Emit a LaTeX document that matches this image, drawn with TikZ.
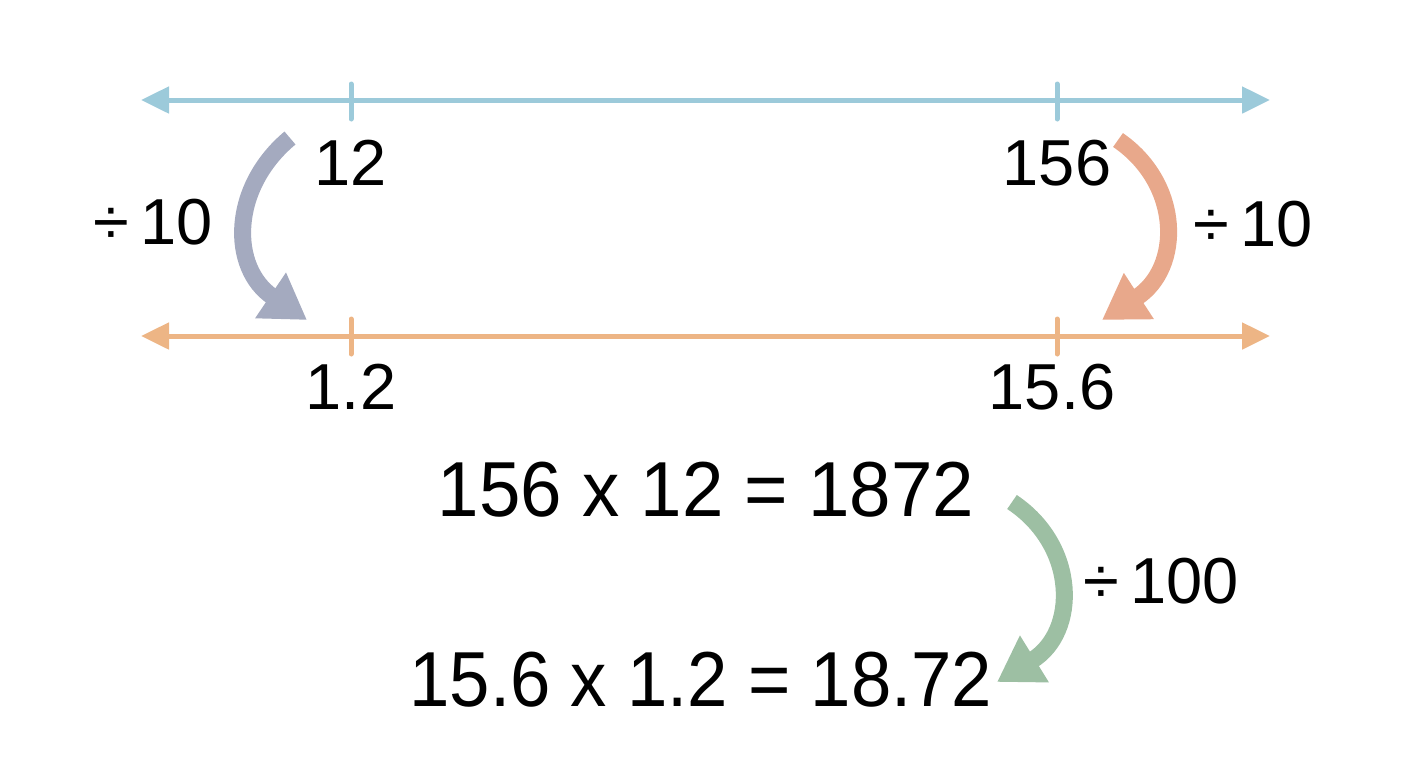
\documentclass[tikz,border=0pt]{standalone}
\usepackage{fontspec}
\setmainfont{Liberation Sans}
\usetikzlibrary{arrows.meta}
\definecolor{lblue}{HTML}{9CCADA}
\definecolor{lorange}{HTML}{EDB585}
\definecolor{cgray}{HTML}{A4AABF}
\definecolor{csalmon}{HTML}{E8A88B}
\definecolor{cgreen}{HTML}{9DBFA3}
\tikzset{
  numline/.style={line width=2.5pt, {Triangle[length=14pt,width=13pt]}-{Triangle[length=14pt,width=13pt]}},
  tickmark/.style={line width=2.5pt, line cap=round},
  bigarrow/.style={line width=8.5pt, -{Triangle[length=22pt,width=26pt]}},
  lbl/.style={font=\fontsize{32.5}{38}\selectfont, inner sep=0pt},
  eqn/.style={font=\fontsize{39}{46}\selectfont, inner sep=0pt},
}
\begin{document}
\begin{tikzpicture}[x=0.5pt,y=-0.5pt]
\useasboundingbox (0,0) rectangle (1408,768);
% top number line
\coordinate (tl) at (141,100); \coordinate (tr) at (1270,100);
\draw[numline, lblue] (tl) -- (tr);
\coordinate (ta1) at (351,84); \coordinate (ta2) at (351,119);
\coordinate (tb1) at (1057,84); \coordinate (tb2) at (1057,119);
\draw[tickmark, lblue] (ta1) -- (ta2);
\draw[tickmark, lblue] (tb1) -- (tb2);
% bottom number line
\coordinate (bl) at (141,336); \coordinate (br) at (1270,336);
\draw[numline, lorange] (bl) -- (br);
\coordinate (ba1) at (351,319); \coordinate (ba2) at (351,354);
\coordinate (bb1) at (1057,319); \coordinate (bb2) at (1057,354);
\draw[tickmark, lorange] (ba1) -- (ba2);
\draw[tickmark, lorange] (bb1) -- (bb2);
% labels
\node[lbl] (n12) at (351,163) {12};
\node[lbl] (n156) at (1057,163) {156};
\node[lbl] (n12b) at (351,387) {1.2};
\node[lbl] (n156b) at (1052,387) {15.6};
\node[lbl] (dl) at (153,222) {÷\,10};
\node[lbl] (dr) at (1253,224) {÷\,10};
\node[lbl] (dh) at (1161,581) {÷\,100};
\node[eqn, xscale=0.955] (e1) at (706,490) {156 x 12 = 1872};
\node[eqn, xscale=0.93] (e2) at (701,680) {15.6 x 1.2 = 18.72};
% curved arrows
\coordinate (ga) at (290,138); \coordinate (gb) at (307,320);
\draw[bigarrow, cgray] (ga) .. controls (230,188) and (230,268) .. (gb);
\coordinate (sa) at (1118,140); \coordinate (sb) at (1102,320);
\draw[bigarrow, csalmon] (sa) .. controls (1182,184) and (1182,268) .. (sb);
\coordinate (va) at (1012,502); \coordinate (vb) at (997,682);
\draw[bigarrow, cgreen] (va) .. controls (1078,546) and (1078,632) .. (vb);
\end{tikzpicture}
\end{document}
